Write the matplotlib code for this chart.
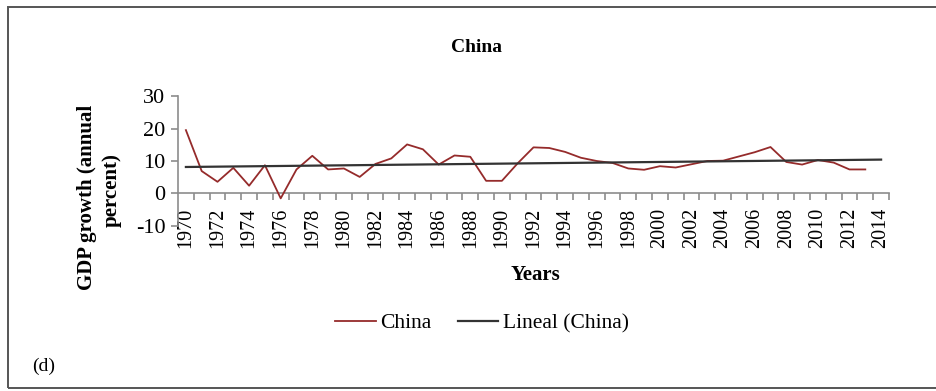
import numpy as np
import matplotlib.pyplot as plt
from matplotlib.patches import Rectangle
from matplotlib.ticker import FixedLocator, FixedFormatter

plt.rcParams['font.family'] = ['Liberation Serif', 'DejaVu Serif']
plt.rcParams['axes.unicode_minus'] = False

# Annual GDP growth for China (percent)
years = list(range(1970, 2015))
gdp_growth = [19.5, 6.9, 3.6, 7.9, 2.4, 8.7, -1.5, 7.4, 11.6, 7.4,
              7.7, 5.1, 9.1, 10.8, 15.1, 13.6, 8.9, 11.7, 11.3, 3.9,
              3.9, 9.3, 14.2, 14.0, 12.8, 11.0, 10.0, 9.4, 7.7, 7.3,
              8.4, 8.0, 9.0, 10.0, 10.1, 11.4, 12.7, 14.3, 9.7, 8.9,
              10.3, 9.5, 7.4, 7.4]
y_ticks = [-10, 0, 10, 20, 30]
year_labels = [str(y) for y in years[::2]]

red = '#952b2b'
dark = '#333333'
grey = '#8c8c8c'

fig = plt.figure(figsize=(9.36, 3.91), dpi=100)
ax = fig.add_axes([178 / 936, 1 - 226 / 391, (889 - 178) / 936, (226 - 96) / 391])

x = np.arange(len(gdp_growth))
ax.plot(x, gdp_growth, color=red, lw=1.3, label='China', zorder=3)

# Linear trend over the observed years, extended across the full category axis
coef = np.polyfit(x, gdp_growth, 1)
xt = np.array([0, len(years) - 1])
ax.plot(xt, np.polyval(coef, xt), color=dark, lw=1.6, label='Lineal (China)', zorder=4)

ax.set_xlim(-0.5, len(years) - 0.5)
ax.set_ylim(-10, 30)

for s in ['top', 'right']:
    ax.spines[s].set_visible(False)
ax.spines['bottom'].set_position(('data', 0))
for s in ['left', 'bottom']:
    ax.spines[s].set_color(grey)
    ax.spines[s].set_linewidth(1.2)

ax.set_yticks(y_ticks)
ax.tick_params(axis='y', direction='out', length=5, width=1.2, color=grey,
               labelsize=16, pad=4)

# Year labels every other category, tick marks between categories
ax.xaxis.set_major_locator(FixedLocator(list(range(0, len(years), 2))))
ax.xaxis.set_major_formatter(FixedFormatter(year_labels))
ax.xaxis.set_minor_locator(FixedLocator([i + 0.5 for i in range(len(years))]))
ax.tick_params(axis='x', which='major', length=0, labelsize=14.5, labelrotation=90, pad=10.5)
ax.tick_params(axis='x', which='minor', direction='out', length=5, width=1.2, color=grey)

fig.text(476 / 936, 1 - 47 / 391, 'China', ha='center', va='center',
         fontsize=14, fontweight='bold')
fig.text(535 / 936, 1 - 275 / 391, 'Years', ha='center', va='center',
         fontsize=15, fontweight='bold')
fig.text(87 / 936, 1 - 197 / 391, 'GDP growth (annual', ha='center', va='center',
         rotation=90, fontsize=15, fontweight='bold')
fig.text(112 / 936, 1 - 190 / 391, 'percent)', ha='center', va='center',
         rotation=90, fontsize=15, fontweight='bold')
fig.text(32 / 936, 1 - 366 / 391, '(d)', ha='left', va='center', fontsize=14)

fig.legend(loc='center', bbox_to_anchor=(482 / 936, 1 - 323 / 391), ncol=2,
           frameon=False, fontsize=15.5, handlelength=1.9, handletextpad=0.2,
           columnspacing=1.2)

# Border around the panel
fig.patches.append(Rectangle((8 / 936, 1 - 388 / 391), 1.0, (388 - 7) / 391,
                             transform=fig.transFigure, fill=False,
                             edgecolor='#555555', lw=1.4))

fig.savefig('out.png', dpi=100)
